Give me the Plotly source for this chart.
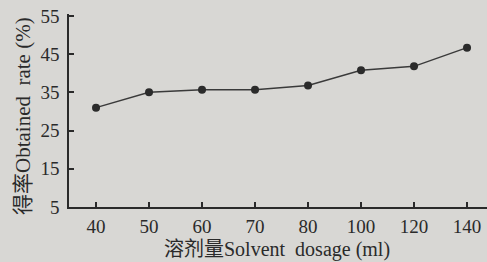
import plotly.graph_objects as go

categories = ["40", "50", "60", "70", "80", "100", "120", "140"]
obtained_rate = [31.0, 35.0, 35.7, 35.7, 36.8, 40.8, 41.8, 46.7]
y_ticks = [5, 15, 25, 35, 45, 55]

bg = "#d8d7d4"
ink = "#2a2a2a"
font_main = "Liberation Serif, Noto Sans CJK SC, serif"

L, R, T, B = 69, 0, 14, 55
pw = 487 - L - R
ph = 262 - T - B

fig = go.Figure()
fig.add_trace(go.Scatter(
    x=categories, y=obtained_rate, mode="lines+markers",
    line=dict(color="#3a3a3a", width=1.5),
    marker=dict(color="#2b2b2b", size=8),
    showlegend=False, hoverinfo="skip",
))

fig.update_layout(
    width=487, height=262,
    margin=dict(l=L, r=R, t=T, b=B),
    paper_bgcolor=bg, plot_bgcolor=bg,
    font=dict(family=font_main, size=19, color=ink),
    xaxis=dict(
        type="category", range=[-0.51, -0.51 + pw / 53.0],
        showline=True, linecolor=ink, linewidth=1.5,
        ticks="inside", ticklen=5, tickcolor=ink, tickwidth=1.5,
        showgrid=False, zeroline=False,
        tickfont=dict(family=font_main, size=19, color=ink),
        ticklabelstandoff=1,
    ),
    yaxis=dict(
        range=[5, 55.5], tickvals=y_ticks,
        showline=True, linecolor=ink, linewidth=1.5,
        ticks="inside", ticklen=5, tickcolor=ink, tickwidth=1.5,
        showgrid=False, zeroline=False,
        tickfont=dict(family=font_main, size=19, color=ink),
        ticklabelstandoff=4,
    ),
    annotations=[
        dict(text="溶剂量Solvent  dosage (ml)", xref="paper", yref="paper",
             x=(277 - L) / pw, y=-(250 - 207) / ph, xanchor="center", yanchor="middle",
             showarrow=False, font=dict(family=font_main, size=20, color=ink)),
        dict(text="得率Obtained  rate (%)", xref="paper", yref="paper",
             x=-(L - 23) / pw, y=(207 - 116) / ph, xanchor="center", yanchor="middle",
             textangle=-90, showarrow=False, font=dict(family=font_main, size=21, color=ink)),
    ],
)

fig.write_html(
    "out.html",
    config={"displayModeBar": False},
    post_script="document.body.style.margin='0';document.body.style.background='%s';" % bg,
)
